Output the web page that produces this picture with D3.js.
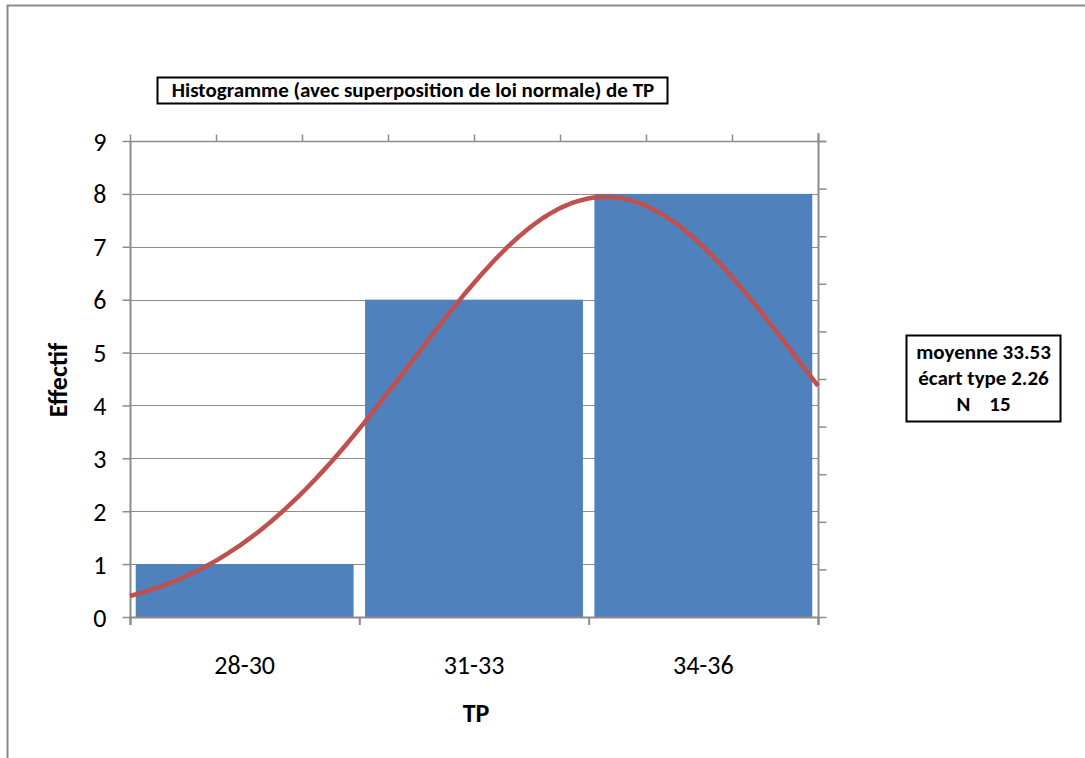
<!DOCTYPE html>
<html>
<head>
<meta charset="utf-8">
<script src="https://cdn.jsdelivr.net/npm/d3@7"></script>
<style>
  html, body { margin: 0; padding: 0; background: #fff; }
  svg { display: block; }
  text { font-family: Carlito, Lato, "Open Sans", sans-serif; fill: #000; }
</style>
</head>
<body>
<svg id="chart" width="1085" height="758"></svg>
<script>
// Histogram of TP with a fitted normal curve
const classes = ["28-30", "31-33", "34-36"];
const counts = [1, 6, 8];
const yTicks = [0, 1, 2, 3, 4, 5, 6, 7, 8, 9];
const curveRange = [28, 36];       // secondary x axis (TP values)
const densityRange = [0, 0.2];     // secondary y axis (density)
const moyenne = 33.53;
const ecartType = 2.26;
const effectifTotal = 15;
const statLines = ["moyenne 33.53", "écart type 2.26", "N    15"];

const svg = d3.select("#chart");
const gridColor = "#8c8c8c";
const barColor = "#4F81BD";
const curveColor = "#C0504D";

// outer chart frame
svg.append("path")
  .attr("d", "M7.5,758 V5.5 H1085")
  .attr("fill", "none").attr("stroke", "#8a8a8a").attr("stroke-width", 2);

const plot = { left: 130, right: 818, top: 141, bottom: 617 };

const x = d3.scaleBand().domain(classes).range([plot.left, plot.right]).paddingInner(0.05).paddingOuter(0.025);
const xEdges = d3.scaleBand().domain(classes).range([plot.left, plot.right]).padding(0);
const y = d3.scaleLinear().domain([0, 9]).range([plot.bottom, plot.top]);
const x2 = d3.scaleLinear().domain(curveRange).range([plot.left, plot.right]);
const y2 = d3.scaleLinear().domain(densityRange).range([plot.bottom, plot.top]);

// horizontal gridlines
svg.append("g").selectAll("line").data(yTicks.slice(1)).join("line")
  .attr("x1", plot.left).attr("x2", plot.right)
  .attr("y1", d => Math.round(y(d)) + 0.5).attr("y2", d => Math.round(y(d)) + 0.5)
  .attr("stroke", gridColor).attr("stroke-width", 1.2);

// bars
svg.append("g").selectAll("rect").data(counts).join("rect")
  .attr("x", (d, i) => x(classes[i]))
  .attr("width", x.bandwidth())
  .attr("y", d => y(d))
  .attr("height", d => y(0) - y(d))
  .attr("fill", barColor);

// left axis
const yAxis = d3.axisLeft(y).tickValues(yTicks).tickSize(8).tickPadding(16);
const gy = svg.append("g").attr("transform", `translate(${plot.left + 0.5},0)`).call(yAxis);
gy.attr("font-family", null).attr("font-size", null);
gy.select(".domain").attr("stroke", gridColor).attr("stroke-width", 2).attr("d", `M0,${plot.top} V${plot.bottom + 8}`);
gy.selectAll(".tick line").attr("stroke", gridColor).attr("stroke-width", 1.5);
gy.selectAll(".tick text").attr("font-size", 26).attr("dy", "0.35em");

// bottom axis with ticks at class boundaries
const edges = classes.map(c => xEdges(c)).concat([plot.right]);
const gx = svg.append("g");
gx.append("line").attr("x1", plot.left).attr("x2", plot.right)
  .attr("y1", plot.bottom + 0.5).attr("y2", plot.bottom + 0.5)
  .attr("stroke", gridColor).attr("stroke-width", 2);
gx.selectAll("line.tk").data(edges).join("line").attr("class", "tk")
  .attr("x1", d => d + 0.5).attr("x2", d => d + 0.5)
  .attr("y1", plot.bottom).attr("y2", plot.bottom + 8)
  .attr("stroke", gridColor).attr("stroke-width", 2);
gx.selectAll("text").data(classes).join("text")
  .attr("x", d => xEdges(d) + xEdges.bandwidth() / 2)
  .attr("y", 674)
  .attr("text-anchor", "middle").attr("font-size", 26)
  .text(d => d);

// secondary top axis
const gx2 = svg.append("g").attr("transform", `translate(0,${plot.top + 0.5})`)
  .call(d3.axisTop(x2).ticks(8).tickSize(7).tickFormat(""));
gx2.select(".domain").attr("stroke", gridColor).attr("stroke-width", 1.5).attr("d", `M${plot.left},0 H${plot.right + 8}`);
gx2.selectAll(".tick line").attr("stroke", gridColor).attr("stroke-width", 1.5);

// secondary right axis
const gy2 = svg.append("g").attr("transform", `translate(${plot.right + 0.5},0)`)
  .call(d3.axisRight(y2).ticks(10).tickSize(8).tickFormat(""));
gy2.select(".domain").attr("stroke", gridColor).attr("stroke-width", 2).attr("d", `M0,${plot.top - 8} V${plot.bottom + 8}`);
gy2.selectAll(".tick line").attr("stroke", gridColor).attr("stroke-width", 1.5);

// normal density curve with the stated mean and standard deviation
const normal = t => Math.exp(-0.5 * ((t - moyenne) / ecartType) ** 2) / (ecartType * Math.sqrt(2 * Math.PI));
const curvePts = d3.range(0, 201).map(i => {
  const t = curveRange[0] + (curveRange[1] - curveRange[0]) * i / 200;
  return [t, normal(t)];
});
svg.append("path").datum(curvePts)
  .attr("fill", "none").attr("stroke", curveColor).attr("stroke-width", 4.5)
  .attr("d", d3.line().x(d => x2(d[0])).y(d => y2(d[1])).curve(d3.curveMonotoneX));

// axis titles
svg.append("text").attr("x", 476).attr("y", 722).attr("text-anchor", "middle")
  .attr("font-size", 26).attr("font-weight", "bold").text("TP");
svg.append("text").attr("transform", "translate(67,380) rotate(-90)").attr("text-anchor", "middle")
  .attr("font-size", 26).attr("font-weight", "bold").text("Effectif");

// title box
const tg = svg.append("g");
tg.append("rect").attr("x", 157.5).attr("y", 77.5).attr("width", 510).attr("height", 26)
  .attr("fill", "#fff").attr("stroke", "#000").attr("stroke-width", 2);
tg.append("text").attr("x", 413).attr("y", 97).attr("text-anchor", "middle")
  .attr("font-size", 21).attr("font-weight", "bold")
  .text("Histogramme (avec superposition de loi normale) de TP");

// statistics box
const sg = svg.append("g");
sg.append("rect").attr("x", 906.5).attr("y", 335.5).attr("width", 154).attr("height", 86)
  .attr("fill", "#fff").attr("stroke", "#000").attr("stroke-width", 2);
sg.selectAll("text").data(statLines).join("text")
  .attr("x", 983.5).attr("y", (d, i) => 359 + i * 26)
  .attr("text-anchor", "middle").attr("font-size", 21).attr("font-weight", "bold")
  .attr("xml:space", "preserve").style("white-space", "pre")
  .text(d => d);
</script>
</body>
</html>
